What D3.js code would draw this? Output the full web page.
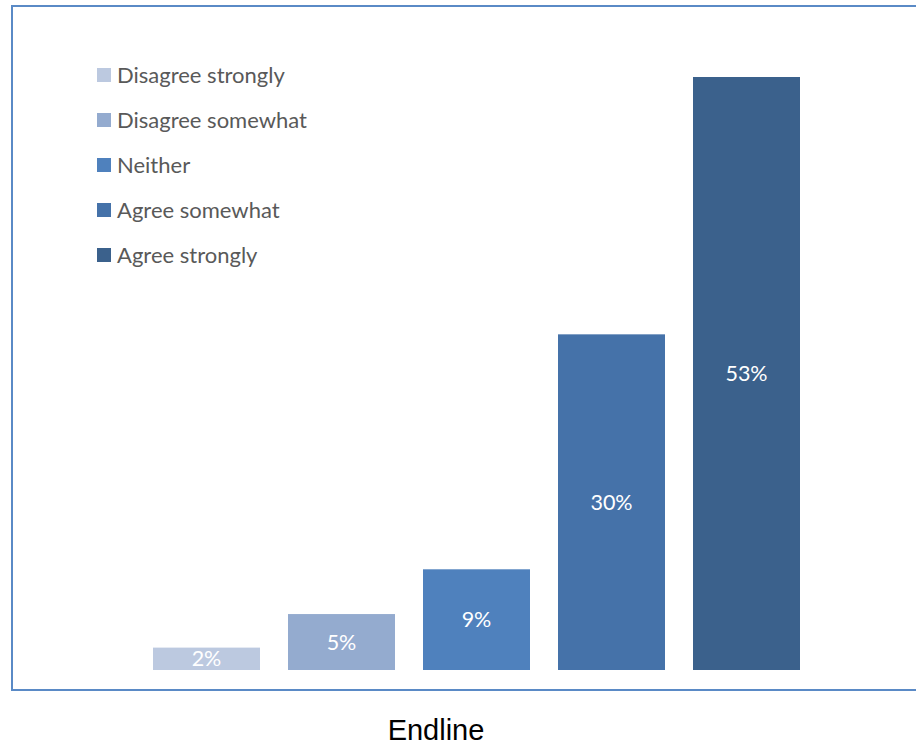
<!DOCTYPE html>
<html>
<head>
<meta charset="utf-8">
<script src="https://cdn.jsdelivr.net/npm/d3@7/dist/d3.min.js"></script>
<style>
  html, body { margin: 0; padding: 0; background: #fff; }
  svg { display: block; }
</style>
</head>
<body>
<svg id="chart" width="916" height="740"></svg>
<script>
// Survey responses at endline, one bar per answer
const categories = ["Disagree strongly", "Disagree somewhat", "Neither", "Agree somewhat", "Agree strongly"];
const values = [2, 5, 9, 30, 53];
const colors = ["#BCC9E0", "#94ABCF", "#4F81BD", "#4572A9", "#3B618C"];
const groupLabel = "Endline";

const svg = d3.select("#chart");

// Chart frame (right edge runs past the page)
svg.append("rect")
  .attr("x", 12).attr("y", 6)
  .attr("width", 940).attr("height", 684)
  .attr("fill", "none")
  .attr("stroke", "#5A8AC6")
  .attr("stroke-width", 2);

const x = d3.scaleBand()
  .domain(categories)
  .range([139, 814])
  .paddingInner(0.2074)
  .paddingOuter(0.1037);

const y = d3.scaleLinear()
  .domain([0, 53])
  .range([670, 77]);

const color = d3.scaleOrdinal().domain(categories).range(colors);

const data = categories.map((c, i) => ({ cat: c, value: values[i] }));

svg.append("g").selectAll("rect")
  .data(data)
  .join("rect")
  .attr("x", d => x(d.cat))
  .attr("y", d => y(d.value))
  .attr("width", x.bandwidth())
  .attr("height", d => y(0) - y(d.value))
  .attr("fill", d => color(d.cat));

// Value labels centred inside each bar
svg.append("g").selectAll("text")
  .data(data)
  .join("text")
  .attr("x", d => x(d.cat) + x.bandwidth() / 2)
  .attr("y", d => (y(d.value) + y(0)) / 2)
  .attr("dy", "0.35em")
  .attr("text-anchor", "middle")
  .attr("fill", "#fff")
  .attr("font-family", "Lato, 'Open Sans', sans-serif")
  .attr("font-size", 21.5)
  .text(d => d.value + "%");

// Legend
const legend = svg.append("g").selectAll("g")
  .data(categories)
  .join("g")
  .attr("transform", (d, i) => `translate(97, ${75 + i * 45})`);

legend.append("rect")
  .attr("x", 0).attr("y", -7)
  .attr("width", 14).attr("height", 14)
  .attr("fill", d => color(d));

legend.append("text")
  .attr("x", 20)
  .attr("dy", "0.35em")
  .attr("fill", "#595959")
  .attr("font-family", "Lato, 'Open Sans', sans-serif")
  .attr("font-size", 22)
  .text(d => d);

// Category caption below the frame
svg.append("text")
  .attr("x", 436)
  .attr("y", 740)
  .attr("text-anchor", "middle")
  .attr("fill", "#000")
  .attr("font-family", "'Liberation Sans', Arial, sans-serif")
  .attr("font-size", 29)
  .text(groupLabel);
</script>
</body>
</html>
